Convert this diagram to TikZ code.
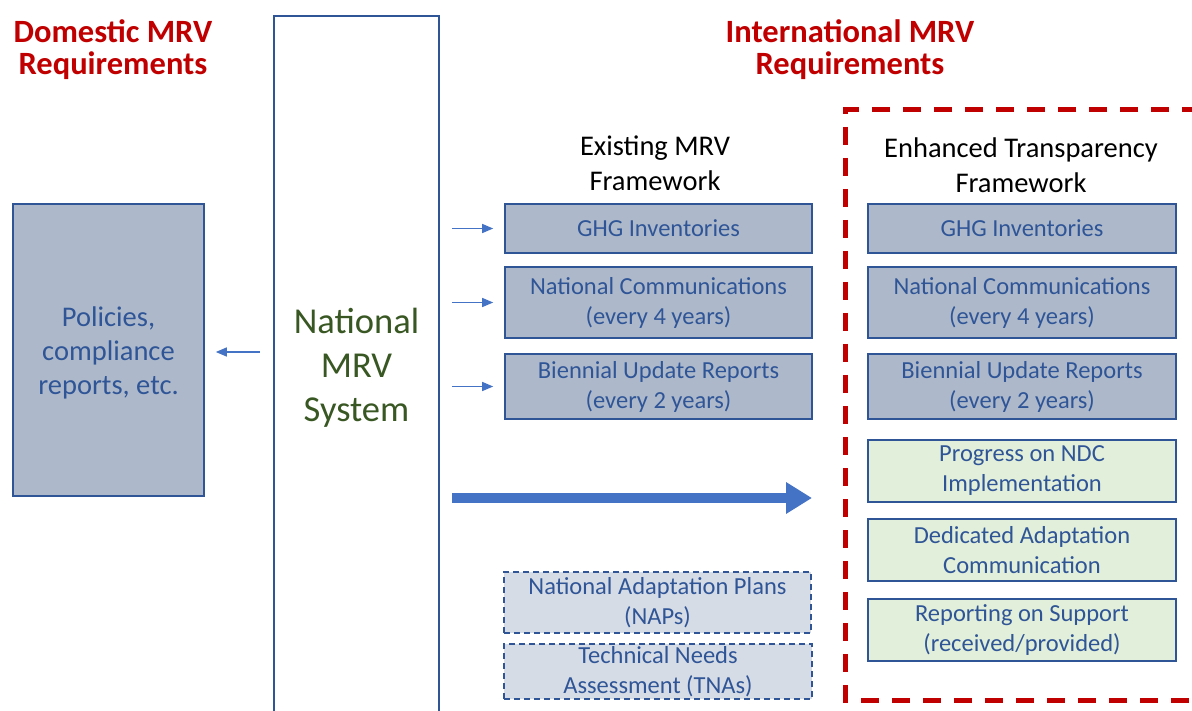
\documentclass[tikz,border=0pt]{standalone}
\usepackage{fontspec}
\setmainfont{Carlito}
\usetikzlibrary{arrows.meta}

\definecolor{edgeblue}{HTML}{2F5597}
\definecolor{arrowblue}{HTML}{4472C4}
\definecolor{boxgrey}{HTML}{ADB9CA}
\definecolor{lightgrey}{HTML}{D6DCE5}
\definecolor{palegreen}{HTML}{E2EFDA}
\definecolor{titlered}{HTML}{C00000}
\definecolor{darkgreen}{HTML}{385723}

\tikzset{
  repbox/.style={draw=edgeblue,line width=1.6pt,fill=boxgrey,text=edgeblue,align=center,
    inner sep=0pt,font=\fontsize{24.5}{30}\selectfont},
  newbox/.style={repbox,fill=palegreen,line width=1.4pt},
  optbox/.style={repbox,fill=lightgrey,dashed,dash pattern=on 6pt off 4pt,line width=1.4pt},
  headline/.style={align=center,text=titlered,font=\fontsize{32.5}{32}\selectfont\bfseries},
  frametitle/.style={align=center,font=\fontsize{28.5}{35}\selectfont},
  feed/.style={arrowblue,line width=1.3pt,-{Triangle[length=11pt,width=9pt]}},
}

\begin{document}
\begin{tikzpicture}[x=1pt,y=-1pt]
 \useasboundingbox (0,0) rectangle (1192,711);

 \node[headline] (domtitle) at (113,50) {Domestic MRV\\Requirements}; %titles
 \node[headline] (inttitle) at (850,50) {International MRV\\Requirements};

 \draw[edgeblue,line width=1.8pt] (274,720)--(274,16)--(439,16)--(439,720); %national system
 \coordinate (natW) at (274,352);
 \coordinate (natE) at (439,352);
 \node[align=center,text=darkgreen,font=\fontsize{36.5}{44}\selectfont] (nat) at (356.5,368)
   {National\\MRV\\System};

 \node[repbox,minimum width=191pt,minimum height=292pt] (dom) at (108.5,350) {};
 \node[align=center,text=edgeblue,font=\fontsize{28.5}{34}\selectfont] (domtext) at (108.5,353)
   {Policies,\\compliance\\reports, etc.};
 \draw[feed,shorten <=14pt,shorten >=11pt] (natW) -- (dom.east |- natW);

 % existing framework
 \node[frametitle] (exttl) at (655,163) {Existing MRV\\Framework};
 \node[repbox,minimum width=307pt,minimum height=49pt] (exghg) at (658.5,228.5) {GHG Inventories};
 \node[repbox,minimum width=307pt,minimum height=71pt] (exnc) at (658.5,302.5) {National Communications\\(every 4 years)};
 \node[repbox,minimum width=307pt,minimum height=65pt] (exbur) at (658.5,386.5) {Biennial Update Reports\\(every 2 years)};
 \foreach \b in {exghg,exnc,exbur}
   \draw[feed,shorten <=13pt,shorten >=11pt] (natE |- \b.west) -- (\b.west);

 \node[optbox,minimum width=307pt,minimum height=61pt] (nap) at (657.5,602.5) {National Adaptation Plans\\(NAPs)};
 \node[optbox,minimum width=308pt,minimum height=55pt] (tna) at (658,671.5) {Technical Needs\\Assessment (TNAs)};

 \coordinate (bigend) at (812,498);
 \draw[arrowblue,line width=10pt,-{Triangle[length=26pt,width=30pt]},shorten <=13pt]
   (natE |- bigend) -- (bigend); %transition

 % enhanced transparency framework
 \draw[titlered,line width=5pt,dash pattern=on 18pt off 13pt] (1200,110)--(845,110)--(845,700)--(1200,700);
 \node[frametitle] (etftl) at (1021,165) {Enhanced Transparency\\Framework};
 \node[repbox,minimum width=308pt,minimum height=49pt] (etghg) at (1022,228.5) {GHG Inventories};
 \node[repbox,minimum width=308pt,minimum height=71pt] (etnc) at (1022,302.5) {National Communications\\(every 4 years)};
 \node[repbox,minimum width=308pt,minimum height=65pt] (etbur) at (1022,386.5) {Biennial Update Reports\\(every 2 years)};
 \node[newbox,minimum width=308pt,minimum height=62pt] (ndc) at (1022,471) {Progress on NDC\\Implementation};
 \node[newbox,minimum width=308pt,minimum height=62pt] (adapt) at (1022,550) {Dedicated Adaptation\\Communication};
 \node[newbox,minimum width=308pt,minimum height=62pt] (supp) at (1022,630) {Reporting on Support\\(received/provided)};
\end{tikzpicture}
\end{document}
